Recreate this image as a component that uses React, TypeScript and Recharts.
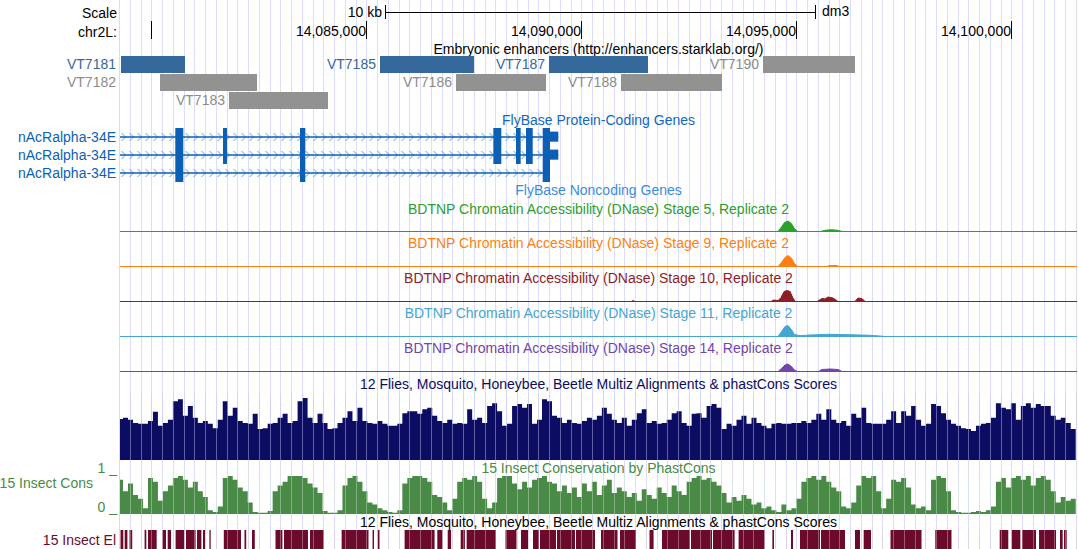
import React from "react"
import { ComposedChart, Area, XAxis, YAxis, ReferenceArea, ReferenceLine } from "recharts"

// window: chr2L:14,079,256-14,101,512 (dm3)
const VIEW_START = 14079256
const VIEW_END = 14101512
const WIDTH = 1078
const HEIGHT = 549
const LEFT = 120
const FONT = '"Liberation Sans", Arial, Helvetica, sans-serif'

// ruler
const RULER_TICKS = [14080000, 14085000, 14090000, 14095000, 14100000]
const RULER_LABELS = ["", "14,085,000", "14,090,000", "14,095,000", "14,100,000"]
const SCALE_BAR_START = 14085419
const SCALE_BAR_KB = 10

// Embryonic enhancers (starklab)
const ENHANCER_NAMES = ["VT7181", "VT7182", "VT7183", "VT7185", "VT7186", "VT7187", "VT7188", "VT7190"]
const ENHANCER_STARTS = [14079279, 14080186, 14081791, 14085302, 14087070, 14089233, 14090907, 14094209]
const ENHANCER_ENDS = [14080768, 14082442, 14084093, 14087488, 14089163, 14091535, 14093256, 14096349]
const ENHANCER_ROWS = [0, 1, 2, 0, 1, 0, 1, 0]
const ENHANCER_ACTIVE = [true, false, false, true, false, true, false, false]

// nAcRalpha-34E transcripts
const GENE_NAME = "nAcRalpha-34E"
const EXON_STARTS = [14080542, 14081651, 14083442, 14087938, 14088465, 14088698, 14089086]
const EXON_ENDS = [14080728, 14081744, 14083566, 14088124, 14088574, 14088854, 14089256]
const TRANSCRIPT_EXONS = [
  [0, 1, 2, 3, 4, 5, 6],
  [0, 1, 2, 3, 4, 5, 6],
  [0, 2, 6],
]
const TRANSCRIPT_STARTS = [14079000, 14079000, 14079000]
const TRANSCRIPT_ENDS = [14089449, 14089449, 14089256]
const UTR_STARTS = [14089256, 14089256, null]
const UTR_ENDS = [14089449, 14089449, null]

// BDTNP DNase signal, [position, signal]
const DNASE_STAGE5 = [
  [VIEW_START, 0], [14090100, 0], [14090160, 0.8], [14090220, 0], [14094560, 0], [14094640, 4.5], [14094710, 9],
  [14094791, 10.5], [14094870, 8], [14094940, 3], [14095010, 0], [14095550, 0], [14095650, 1.2],
  [14095800, 1.8], [14095950, 1.2], [14096050, 0], [VIEW_END, 0],
]
const DNASE_STAGE9 = [
  [VIEW_START, 0], [14094560, 0], [14094640, 4], [14094721, 9], [14094791, 11], [14094870, 8.5],
  [14094940, 3], [14095010, 0], [14095700, 0], [14095750, 1], [14095930, 1], [14095980, 0], [VIEW_END, 0],
]
const DNASE_STAGE10 = [
  [VIEW_START, 0], [14091150, 0], [14091190, 1], [14091230, 0], [14094400, 0], [14094450, 1.5],
  [14094560, 1], [14094630, 4], [14094700, 10], [14094770, 11], [14094840, 10], [14094900, 4],
  [14094960, 0], [14095465, 0], [14095582, 3], [14095650, 2.5], [14095721, 4.5], [14095837, 3.5],
  [14095954, 0], [14096349, 0], [14096419, 3.5], [14096512, 3], [14096582, 0], [VIEW_END, 0],
]
const DNASE_STAGE11 = [
  [VIEW_START, 0], [14094560, 0], [14094640, 5], [14094721, 10], [14094791, 11], [14094870, 7],
  [14094940, 2], [14095070, 0.8], [14095303, 1.5], [14095768, 2.2], [14096233, 1.8], [14096698, 1.2],
  [14096930, 0.5], [14097050, 0], [VIEW_END, 0],
]
const DNASE_STAGE14 = [
  [VIEW_START, 0], [14094560, 0], [14094640, 3], [14094721, 6.5], [14094791, 7.5], [14094870, 5],
  [14094940, 1.5], [14095010, 0], [14095500, 0], [14095582, 2], [14095768, 2.5], [14095954, 2],
  [14096047, 0], [VIEW_END, 0],
]

// wiggle bins (116 bp each) starting at WIG_START
const WIG_START = 14079210
const WIG_SPAN = 116
const MULTIZ_SCORES = [
  62, 64, 61, 56, 55, 55, 59, 73, 52, 56, 61, 89, 92, 67, 82, 64, 56, 59, 55, 48,
  61, 89, 67, 79, 59, 56, 55, 70, 47, 48, 55, 56, 64, 70, 56, 59, 89, 94, 64, 56,
  70, 56, 47, 48, 56, 64, 74, 59, 79, 59, 56, 55, 59, 55, 52, 52, 55, 71, 74, 74,
  70, 77, 79, 67,
  59, 56, 61, 55, 56, 55, 77, 61, 64, 56, 82, 86, 74, 52, 55, 82, 85, 79, 85, 55,
  61, 92, 89, 67, 64, 56, 61, 56, 55, 59, 64, 61, 67, 79, 70, 61, 56, 64, 52, 61,
  71, 77, 56, 59, 55, 56, 61, 71, 74, 56, 52, 70, 71, 64, 82, 85, 79, 47, 55, 52,
  61, 67, 55, 64,
  56, 52, 48, 55, 56, 55, 55, 56, 56, 59, 56, 61, 70, 61, 77, 61, 56, 59, 52, 70,
  64, 79, 56, 55, 55, 55, 61, 74, 56, 74, 67, 82, 61, 52, 55, 85, 82, 71, 61, 55,
  52, 48, 47, 44, 52, 55, 56, 64, 86, 79, 77, 86, 61, 82, 86, 79, 85, 82, 82, 67,
  61, 64, 56, 47,
]
const CONS_SCORES = [
  90, 60, 80, 50, 40, 15, 95, 85, 35, 60, 75, 95, 100, 90, 70, 85, 60, 45, 10, 5,
  20, 95, 100, 90, 70, 60, 30, 5, 3, 3, 8, 60, 75, 85, 100, 100, 100, 95, 80, 70,
  55, 8, 3, 3, 10, 75, 95, 100, 85, 60, 30, 25, 15, 10, 5, 3, 10, 80, 95, 100,
  100, 95, 85, 50, 45, 30, 10, 40, 85, 95, 90, 100, 85, 40, 15, 30, 95, 100, 100, 80,
  65, 85, 70, 90, 95, 100, 85, 80, 60, 75, 55, 70, 45, 80, 60, 85, 50, 75, 90, 55,
  70, 60, 45, 55, 35, 65, 50, 40, 70, 55, 45, 75, 60, 50, 85, 95, 100, 90, 95, 85,
  75, 55, 30, 45, 35, 50, 40, 25, 30, 15, 20, 10, 5, 25, 10, 15, 40, 85, 95, 100,
  90, 100, 85, 70, 60, 20, 15, 30, 75, 100, 95, 100, 60, 15, 40, 90, 85, 95, 70, 25,
  15, 20, 10, 90, 100, 95, 60, 10, 5, 3, 3, 5, 8, 5, 10, 20, 85, 95, 70, 95,
  100, 90, 100, 75, 95, 100, 90, 60, 30, 45, 35, 40,
]

// 15 Insect conserved elements
const EL_STARTS = [
  14079268, 14079365, 14079477, 14079828, 14079907, 14080244, 14080365, 14080549, 14080791, 14081047,
  14081186, 14081335, 14081670, 14082151, 14082326, 14082872, 14083070, 14083675, 14084410, 14085130,
  14085251, 14085875, 14086635, 14086877, 14087179, 14087317, 14088221, 14088582, 14088861, 14089024,
  14089419, 14089861, 14090442, 14090884, 14091570, 14091861, 14092535, 14093047, 14093642, 14094428,
  14094861, 14095070, 14095558, 14096349, 14096551, 14097175, 14098216, 14099714, 14099993, 14100233,
  14100629, 14101117, 14101210,
]
const EL_ENDS = [
  14079333, 14079428, 14079540, 14079868, 14080109, 14080326, 14080444, 14080749, 14081014, 14081149,
  14081233, 14081365, 14082070, 14082191, 14082391, 14083033, 14083628, 14083993, 14085035, 14085163,
  14085291, 14086572, 14086756, 14086956, 14087277, 14087998, 14088477, 14088745, 14089000, 14089396,
  14089838, 14090303, 14090826, 14091256, 14091665, 14092512, 14093023, 14093549, 14094247, 14094465,
  14094907, 14095535, 14096116, 14096465, 14096721, 14097896, 14098593, 14099914, 14100195, 14100559,
  14101024, 14101179, 14101272,
]

const TRACK_TITLES = [
  "Embryonic enhancers (http://enhancers.starklab.org/)",
  "FlyBase Protein-Coding Genes",
  "FlyBase Noncoding Genes",
  "BDTNP Chromatin Accessibility (DNase) Stage 5, Replicate 2",
  "BDTNP Chromatin Accessibility (DNase) Stage 9, Replicate 2",
  "BDTNP Chromatin Accessibility (DNase) Stage 10, Replicate 2",
  "BDTNP Chromatin Accessibility (DNase) Stage 11, Replicate 2",
  "BDTNP Chromatin Accessibility (DNase) Stage 14, Replicate 2",
  "12 Flies, Mosquito, Honeybee, Beetle Multiz Alignments & phastCons Scores",
  "15 Insect Conservation by PhastCons",
  "12 Flies, Mosquito, Honeybee, Beetle Multiz Alignments & phastCons Scores",
]

const GUIDE_STEP = 250
const GUIDES: number[] = []
for (let p = Math.ceil(VIEW_START / GUIDE_STEP) * GUIDE_STEP; p <= VIEW_END; p += GUIDE_STEP) GUIDES.push(p)

const FS = 14

const C = {
  enh: "#35699b",
  enhGray: "#929292",
  enhGrayText: "#8c8c8c",
  gene: "#0b5fb5",
  chevron: "#5f9cdc",
  geneTitle: "#1466c0",
  ncTitle: "#3a8cdc",
  st5: "#2ca02c",
  st9: "#ff7f0e",
  st10: "#8f1d24",
  st11: "#46a6d2",
  st14: "#7046a8",
  multiz: "#0b0c62",
  cons: "#4a8a47",
  el: "#6c0a2c",
  guide: "#dcdcff",
}

type TrackProps = {
  top: number
  height: number
  yMax?: number
  reversed?: boolean
  data?: any[]
  bottom?: number
  children?: React.ReactNode
}

function Track({ top, height, yMax = 1, reversed = false, data, bottom = 0, children }: TrackProps) {
  return (
    <div style={{ position: "absolute", left: 0, top, width: WIDTH, height }}>
      <ComposedChart width={WIDTH} height={height} data={data} margin={{ top: 0, right: 1, bottom, left: LEFT }}>
        <XAxis type="number" dataKey="pos" domain={[VIEW_START, VIEW_END]} hide allowDataOverflow />
        <YAxis type="number" domain={[0, yMax]} hide reversed={reversed} allowDataOverflow />
        {children}
      </ComposedChart>
    </div>
  )
}

function Guides({ top, height, color, opacity }: { top: number; height: number; color: string; opacity: number }) {
  return (
    <Track top={top} height={height}>
      {GUIDES.map((p) => (
        <ReferenceLine
          key={p}
          x={p}
          stroke={color}
          strokeOpacity={opacity}
          strokeWidth={1}
          shapeRendering="crispEdges"
        />
      ))}
    </Track>
  )
}

const clip = (p: number) => Math.min(VIEW_END, Math.max(VIEW_START, p))

function Title({ text, y, color }: { text: string; y: number; color: string }) {
  return (
    <div
      style={{
        position: "absolute",
        left: LEFT,
        width: WIDTH - LEFT - 1,
        top: y - 8,
        lineHeight: "16px",
        textAlign: "center",
        color,
        whiteSpace: "nowrap",
      }}
    >
      {text}
    </div>
  )
}

function SideLabel({ text, y, color, right = 116 }: { text: string; y: number; color: string; right?: number }) {
  return (
    <div
      style={{
        position: "absolute",
        right: WIDTH - right,
        top: y - 8,
        lineHeight: "16px",
        color,
        whiteSpace: "nowrap",
      }}
    >
      {text}
    </div>
  )
}

function Wiggle({ top, height, scores, color }: { top: number; height: number; scores: number[]; color: string }) {
  const data = scores.map((v, i) => ({ pos: WIG_START + i * WIG_SPAN, v }))
  data.push({ pos: WIG_START + scores.length * WIG_SPAN, v: scores[scores.length - 1] })
  return (
    <Track top={top} height={height} yMax={100} data={data}>
      <Area
        type="stepAfter"
        dataKey="v"
        stroke="none"
        fill={color}
        fillOpacity={1}
        isAnimationActive={false}
        dot={false}
        activeDot={false}
      />
    </Track>
  )
}

function Dnase({ top, points, color }: { top: number; points: number[][]; color: string }) {
  const data = points.map(([pos, v]) => ({ pos, v }))
  return (
    <Track top={top} height={14} yMax={12.5} data={data} bottom={1.5}>
      <Area
        type="linear"
        dataKey="v"
        stroke={color}
        strokeWidth={1}
        fill={color}
        fillOpacity={1}
        isAnimationActive={false}
        dot={false}
        activeDot={false}
      />
      <ReferenceLine y={0} stroke={color} strokeWidth={1} shapeRendering="crispEdges" />
    </Track>
  )
}

export default function App() {
  const scaleEnd = SCALE_BAR_START + SCALE_BAR_KB * 1000
  return (
    <div
      style={{
        position: "absolute",
        left: 0,
        top: 0,
        width: WIDTH,
        height: HEIGHT,
        overflow: "hidden",
        background: "#fff",
        fontFamily: FONT,
        fontSize: FS,
      }}
    >
      {/* guidelines behind everything */}
      <Guides top={0} height={HEIGHT} color={C.guide} opacity={1} />
      <div style={{ position: "absolute", left: LEFT - 1, top: 0, width: 1, height: HEIGHT, background: "#ffcfcf" }} />

      {/* scale bar: y runs 0..24 px-rows from the top */}
      <Track top={0} height={24} yMax={24} reversed>
        <ReferenceLine
          segment={[
            { x: SCALE_BAR_START, y: 12 },
            { x: scaleEnd, y: 12 },
          ]}
          stroke="#000"
          shapeRendering="crispEdges"
        />
        <ReferenceLine
          segment={[
            { x: SCALE_BAR_START, y: 5 },
            { x: SCALE_BAR_START, y: 19 },
          ]}
          stroke="#000"
          shapeRendering="crispEdges"
          label={(p: any) => (
            <text x={p.viewBox.x - 3} y={12} dy="0.35em" textAnchor="end" fontSize={FS} fill="#000">
              {`${SCALE_BAR_KB} kb`}
            </text>
          )}
        />
        <ReferenceLine
          segment={[
            { x: scaleEnd, y: 5 },
            { x: scaleEnd, y: 19 },
          ]}
          stroke="#000"
          shapeRendering="crispEdges"
          label={(p: any) => (
            <text x={p.viewBox.x + 7} y={11} dy="0.35em" textAnchor="start" fontSize={FS} fill="#000">
              dm3
            </text>
          )}
        />
      </Track>

      {/* chromosome ruler */}
      <Track top={21} height={18}>
        {RULER_TICKS.map((t, i) => (
          <ReferenceLine
            key={t}
            x={t}
            stroke="#000"
            shapeRendering="crispEdges"
            label={(p: any) =>
              RULER_LABELS[i] ? (
                <text x={p.viewBox.x - 1} y={p.viewBox.y + 10} dy="0.35em" textAnchor="end" fontSize={FS} fill="#000">
                  {RULER_LABELS[i]}
                </text>
              ) : null
            }
          />
        ))}
      </Track>
      <SideLabel text="Scale" y={13} color="#000" right={117} />
      <SideLabel text="chr2L:" y={32} color="#000" right={117} />

      <Title text={TRACK_TITLES[0]} y={49} color="#000" />
      {/* enhancers */}
      <Track top={56} height={54} yMax={3} reversed>
        {ENHANCER_NAMES.map((name, i) => {
          const color = ENHANCER_ACTIVE[i] ? C.enh : C.enhGray
          const textColor = ENHANCER_ACTIVE[i] ? C.enh : C.enhGrayText
          return (
            <ReferenceArea
              key={name}
              x1={ENHANCER_STARTS[i]}
              x2={ENHANCER_ENDS[i]}
              y1={ENHANCER_ROWS[i]}
              y2={ENHANCER_ROWS[i] + 0.95}
              fill={color}
              fillOpacity={1}
              stroke="none"
              shapeRendering="crispEdges"
              label={(p: any) => {
                // label goes to the left margin when it would not fit inside the window
                const w = name.length * 8.2
                const x = p.viewBox.x - 5 - w < LEFT ? LEFT - 4 : p.viewBox.x - 4
                return (
                  <text
                    x={x}
                    y={p.viewBox.y + p.viewBox.height / 2}
                    dy="0.35em"
                    textAnchor="end"
                    fontSize={FS}
                    fill={textColor}
                  >
                    {name}
                  </text>
                )
              }}
            />
          )
        })}
      </Track>

      <Title text={TRACK_TITLES[1]} y={120} color={C.geneTitle} />
      {/* gene models */}
      <Track top={128} height={54} yMax={3} reversed>
        <defs>
          <pattern id="chev" x={0} y={0} width={8} height={18} patternUnits="userSpaceOnUse">
            <path d="M1.5,5 L5.5,9 L1.5,13" fill="none" stroke={C.chevron} strokeWidth={1} />
          </pattern>
        </defs>
        {TRANSCRIPT_EXONS.map((exons, r) => [
          <ReferenceArea
            key={`chev${r}`}
            x1={clip(TRANSCRIPT_STARTS[r])}
            x2={TRANSCRIPT_ENDS[r]}
            y1={r + 0.25}
            y2={r + 0.75}
            fill="url(#chev)"
            fillOpacity={1}
            stroke="none"
          />,
          <ReferenceLine
            key={`line${r}`}
            segment={[
              { x: clip(TRANSCRIPT_STARTS[r]), y: r + 0.5 },
              { x: TRANSCRIPT_ENDS[r], y: r + 0.5 },
            ]}
            stroke={C.gene}
            strokeWidth={1.5}
          />,
          ...exons.map((e) => (
            <ReferenceArea
              key={`ex${r}-${e}`}
              x1={EXON_STARTS[e]}
              x2={EXON_ENDS[e]}
              y1={r}
              y2={r + 1}
              fill={C.gene}
              fillOpacity={1}
              stroke="none"
            />
          )),
          UTR_STARTS[r] != null ? (
            <ReferenceArea
              key={`utr${r}`}
              x1={UTR_STARTS[r] as number}
              x2={UTR_ENDS[r] as number}
              y1={r + 0.2}
              y2={r + 0.76}
              fill={C.gene}
              fillOpacity={1}
              stroke="none"
            />
          ) : null,
        ])}
      </Track>
      {[137, 155, 173].map((y) => (
        <SideLabel key={y} text={GENE_NAME} y={y} color={C.gene} />
      ))}

      <Title text={TRACK_TITLES[2]} y={190} color={C.ncTitle} />

      <Title text={TRACK_TITLES[3]} y={209} color={C.st5} />
      <Dnase top={219} points={DNASE_STAGE5} color={C.st5} />
      <Title text={TRACK_TITLES[4]} y={243} color={C.st9} />
      <Dnase top={254} points={DNASE_STAGE9} color={C.st9} />
      <Title text={TRACK_TITLES[5]} y={278} color={C.st10} />
      <Dnase top={289} points={DNASE_STAGE10} color={C.st10} />
      <Title text={TRACK_TITLES[6]} y={313} color={C.st11} />
      <Dnase top={324} points={DNASE_STAGE11} color={C.st11} />
      <Title text={TRACK_TITLES[7]} y={348} color={C.st14} />
      <Dnase top={359} points={DNASE_STAGE14} color={C.st14} />

      <Title text={TRACK_TITLES[8]} y={384} color={C.multiz} />
      <Wiggle top={394} height={66} scores={MULTIZ_SCORES} color={C.multiz} />
      <Guides top={394} height={66} color="#c8c8f4" opacity={0.45} />

      <Title text={TRACK_TITLES[9]} y={468} color={C.cons} />
      <Wiggle top={476} height={38} scores={CONS_SCORES} color={C.cons} />
      <Guides top={476} height={38} color="#d8ecd8" opacity={0.4} />
      <SideLabel text="15 Insect Cons" y={483} color={C.cons} right={93} />
      <SideLabel text="1 _" y={468} color={C.cons} right={117} />
      <SideLabel text="0 _" y={507} color={C.cons} right={117} />

      <Title text={TRACK_TITLES[10]} y={522} color="#000" />
      <Track top={530} height={19}>
        {EL_STARTS.map((s, i) => (
          <ReferenceArea key={s} x1={s} x2={EL_ENDS[i]} y1={0} y2={1} fill={C.el} fillOpacity={1} stroke="none" />
        ))}
      </Track>
      <Guides top={530} height={19} color="#e8c8d4" opacity={0.4} />
      <SideLabel text="15 Insect El" y={540} color={C.el} />
    </div>
  )
}
